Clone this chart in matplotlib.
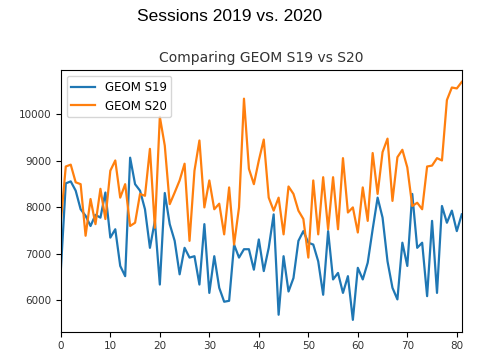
import matplotlib
matplotlib.use("Agg")
import matplotlib.pyplot as plt

# weekly sessions
geom_s19 = [6650, 8517, 8560, 8360, 7960, 7820, 7600, 7840, 7780, 8320,
            7350, 7530, 6740, 6520, 9070, 8500, 8360, 7960, 7130, 7710,
            6340, 8310, 7640, 7280, 6560, 7130, 6920, 6950, 6340, 7640,
            6160, 6950, 6270, 5970, 5990, 7200, 6920, 7100, 7100, 6660,
            7310, 6630, 7130, 7850, 5690, 6950, 6190, 6480, 7280, 7490,
            7240, 7200, 6840, 6120, 7490, 6450, 6590, 6160, 6520, 5580,
            6700, 6450, 6810, 7530, 8210, 7780, 6840, 6270, 6020, 7240,
            6740, 8290, 7130, 7240, 6090, 7710, 6160, 8030, 7670, 7930,
            7490, 7850]
geom_s20 = [7700, 8880, 8920, 8540, 8500, 7390, 8180, 7640, 8400, 7750,
            8790, 9010, 8210, 8500, 7600, 7670, 8290, 8250, 9260, 7560,
            9950, 9330, 8070, 8320, 8580, 8940, 7280, 8790, 9440, 8000,
            8580, 7960, 8080, 7420, 8430, 7200, 8000, 10340, 8830, 8500,
            9010, 9460, 8210, 7930, 8210, 7420, 8450, 8290, 7930, 7750,
            6920, 8580, 7420, 8650, 7530, 8650, 7530, 9060, 7890, 8000,
            7460, 8430, 7710, 9170, 8290, 9190, 9480, 8140, 9080, 9240,
            8860, 8030, 8100, 7960, 8880, 8900, 9060, 9010, 10310, 10580,
            10560, 10700]

fig = plt.figure(figsize=(4.79, 3.61), dpi=100)
fig.suptitle("Sessions 2019 vs. 2020", x=0.48, y=0.975, fontsize=12.5,
             family="Liberation Sans")
ax = fig.add_axes([0.127, 0.081, 0.837, 0.725])
ax.plot(geom_s19, label="GEOM S19", lw=1.6)
ax.plot(geom_s20, label="GEOM S20", lw=1.6)
ax.set_xlim(0, len(geom_s19) - 1)
ax.set_title("Comparing GEOM S19 vs S20", fontsize=10, color="#333333")
ax.tick_params(labelsize=7.5, labelcolor="#333333")
ax.legend(loc="upper left", fontsize=8.5)

fig.savefig("out.png", dpi=100)
